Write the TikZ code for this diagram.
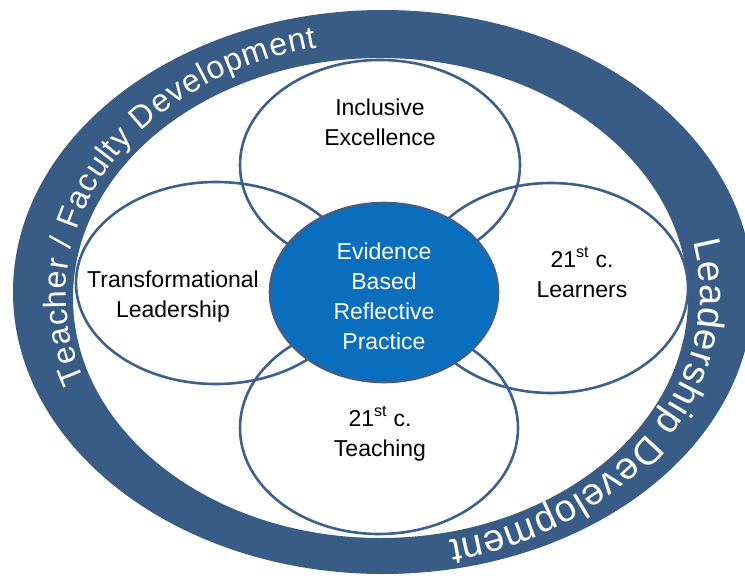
\documentclass[tikz,border=0pt]{standalone}
\usepackage{fontspec}
\setmainfont{Liberation Sans}
\usetikzlibrary{decorations.text}
\definecolor{ringblue}{HTML}{395C87}
\definecolor{lineblue}{HTML}{3C5F8E}
\definecolor{coreblue}{HTML}{0A6EBE}
\newcommand\ringfontA{\fontsize{32}{32}\selectfont}
\newcommand\ringfontB{\fontsize{38}{38}\selectfont}
\begin{document}
\begin{tikzpicture}[x=1pt,y=1pt,
  petal/.style={draw=lineblue, line width=2.6pt},
  core/.style={draw=lineblue, fill=coreblue, line width=2.6pt},
  lbl/.style={font=\fontsize{23}{30}\selectfont, align=center, inner sep=0pt, anchor=base},
  ringtext/.style={decorate, decoration={text along path, text color=white, text align={fit to path}}}]
\useasboundingbox (0,0) rectangle (745,-584);
% ring
\fill[ringblue, even odd rule] (383,-292) ellipse [x radius=370pt, y radius=282pt]
                              (380.5,-298) ellipse [x radius=307.5pt, y radius=240pt];
% petals
\draw[petal] (380,-165) ellipse [x radius=140pt, y radius=105pt];
\draw[petal] (216,-283) ellipse [x radius=140pt, y radius=101pt];
\draw[petal] (551,-288) ellipse [x radius=137pt, y radius=105pt];
\draw[petal] (379,-428) ellipse [x radius=139pt, y radius=106pt];
% core
\draw[core] (384,-292.5) ellipse [x radius=114pt, y radius=89.5pt];
% labels (anchor = baseline of last line)
\node[lbl] (incl) at (380,-145) {Inclusive\\Excellence};
\node[lbl] (trans) at (173,-317) {Transformational\\Leadership};
\node[lbl] (learn) at (582,-297) {21\textsuperscript{st} c.\\Learners};
\node[lbl] (teach) at (380,-456) {21\textsuperscript{st} c.\\Teaching};
\node[lbl, text=white] (ebrp) at (384,-349) {Evidence\\Based\\Reflective\\Practice};
% ring texts
\coordinate (ringc) at (383,-294);
\path (ringc) ++(200:317pt and 252pt) coordinate (tstart);
\path (ringc) ++(12:317pt and 252pt) coordinate (lstart);
\path[ringtext, decoration={text={|\ringfontA|Teacher / Faculty Development}}]
  (tstart) arc [start angle=200, end angle=102, x radius=317pt, y radius=252pt];
\path[ringtext, decoration={text={|\ringfontB|Leadership Development}}]
  (lstart) arc [start angle=12, end angle=-78, x radius=317pt, y radius=252pt];
\end{tikzpicture}
\end{document}
